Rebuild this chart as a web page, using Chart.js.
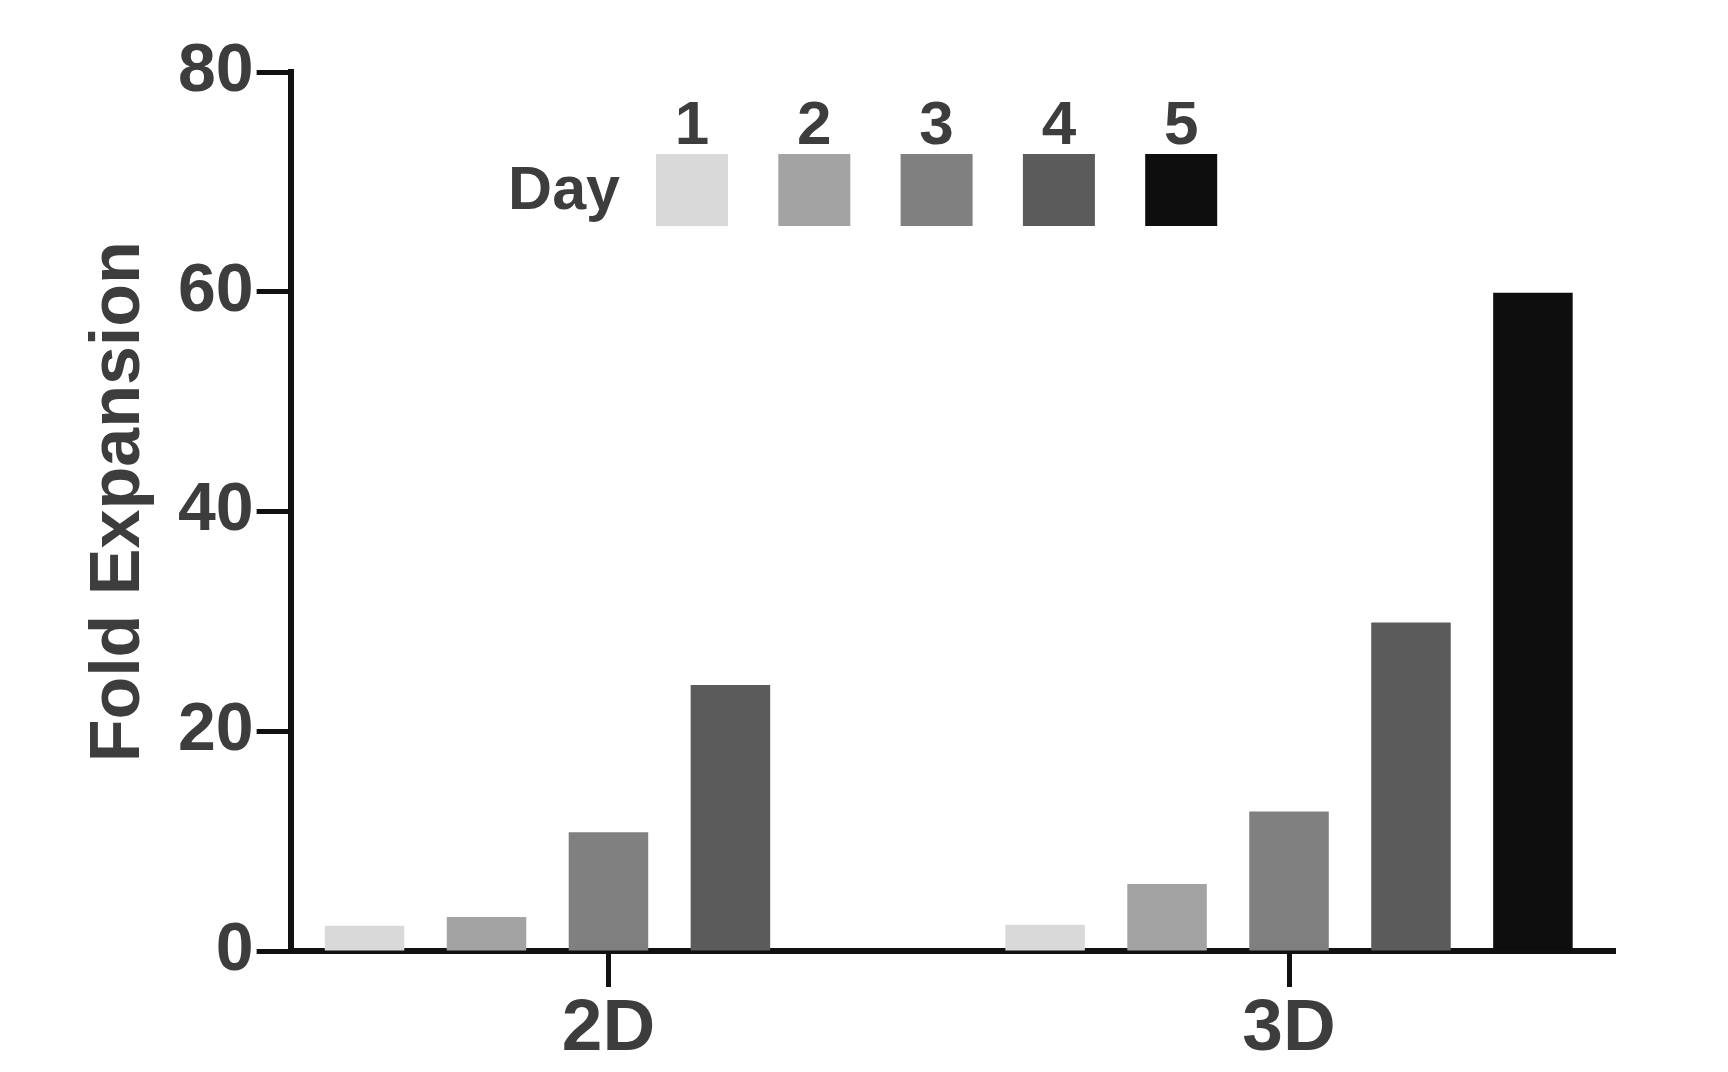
<!DOCTYPE html>
<html>
<head>
<meta charset="utf-8">
<style>
    body { margin: 0; background: #fff; }
    #wrap { width: 1728px; height: 1072px; }
</style>
<script src="https://cdn.jsdelivr.net/npm/chart.js@4/dist/chart.umd.min.js"></script>
</head>
<body>
<div id="wrap"><canvas id="myChart" width="1728" height="1072"></canvas></div>
<script>
    // Datos
    const categories = ['2D', '3D'];
    const days = ['1', '2', '3', '4', '5'];
    const day1 = [2.3, 2.4];
    const day2 = [3.1, 6.1];
    const day3 = [10.8, 12.7];
    const day4 = [24.2, 29.9];
    const day5 = [null, 59.9];
    const yTicks = [0, 20, 40, 60, 80];
    const colors = ['#d9d9d9', '#a3a3a3', '#808080', '#5b5b5b', '#0e0e0e'];

    const textColor = '#3d3d3d';
    const lineColor = '#111111';
    Chart.defaults.font.family = "'Liberation Sans', Arial, sans-serif";
    Chart.defaults.font.weight = 'bold';
    Chart.defaults.color = textColor;

    const seriesValues = [day1, day2, day3, day4, day5];

    // Leyenda "Day" con números sobre los cuadros
    const dayLegend = {
        id: 'dayLegend',
        afterDraw(chart) {
            const ctx = chart.ctx;
            const sets = chart.data.datasets;
            const boxX = 656, boxY = 154, box = 72, pitch = 122.3;
            ctx.save();
            ctx.fillStyle = textColor;
            ctx.font = "bold 61px 'Liberation Sans', Arial, sans-serif";
            ctx.textAlign = 'right';
            ctx.textBaseline = 'middle';
            ctx.fillText('Day', boxX - 36, boxY + box / 2 + 2);
            ctx.font = "bold 62px 'Liberation Sans', Arial, sans-serif";
            sets.forEach((ds, i) => {
                const x = boxX + i * pitch;
                ctx.fillStyle = ds.backgroundColor;
                ctx.fillRect(x, boxY, box, box);
                ctx.fillStyle = textColor;
                ctx.textAlign = 'center';
                ctx.textBaseline = 'alphabetic';
                ctx.fillText(ds.label, x + box / 2, boxY - 10);
            });
            ctx.restore();
        }
    };

    const config = {
        type: 'bar',
        data: {
            labels: categories,
            datasets: days.map((d, i) => ({
                label: d,
                data: seriesValues[i],
                backgroundColor: colors[i],
                borderWidth: 0,
                barPercentage: 0.652,
                categoryPercentage: 0.896
            }))
        },
        plugins: [dayLegend],
        options: {
            responsive: false,
            devicePixelRatio: 1,
            animation: false,
            layout: {
                padding: { left: 85, right: 113, top: 72, bottom: 0 }
            },
            plugins: {
                legend: { display: false },
                tooltip: { enabled: false }
            },
            scales: {
                x: {
                    offset: true,
                    afterBuildTicks: (s) => {
                        s._startValue = -0.467;
                        s._valueRange = 1.946;
                    },
                    border: { display: true, color: lineColor, width: 6 },
                    grid: {
                        display: true,
                        offset: false,
                        drawOnChartArea: false,
                        drawTicks: true,
                        tickLength: 36,
                        tickWidth: 5,
                        tickColor: lineColor
                    },
                    ticks: {
                        color: textColor,
                        padding: 6,
                        font: { size: 73, weight: 'bold', lineHeight: 1 }
                    }
                },
                y: {
                    min: 0,
                    max: 80,
                    afterBuildTicks: (s) => {
                        s.ticks = yTicks.map(v => ({ value: v }));
                    },
                    border: { display: true, color: lineColor, width: 6 },
                    grid: {
                        display: true,
                        drawOnChartArea: false,
                        drawTicks: true,
                        tickLength: 34,
                        tickWidth: 5,
                        tickColor: lineColor
                    },
                    ticks: {
                        color: textColor,
                        padding: 3,
                        font: { size: 68, weight: 'bold', lineHeight: 1 }
                    },
                    title: {
                        display: true,
                        text: ' Fold Expansion',
                        color: textColor,
                        padding: { top: 0, bottom: 20 },
                        font: { size: 70, weight: 'bold', lineHeight: 1 }
                    }
                }
            }
        }
    };

    const myChart = new Chart(document.getElementById('myChart').getContext('2d'), config);
</script>
</body>
</html>
